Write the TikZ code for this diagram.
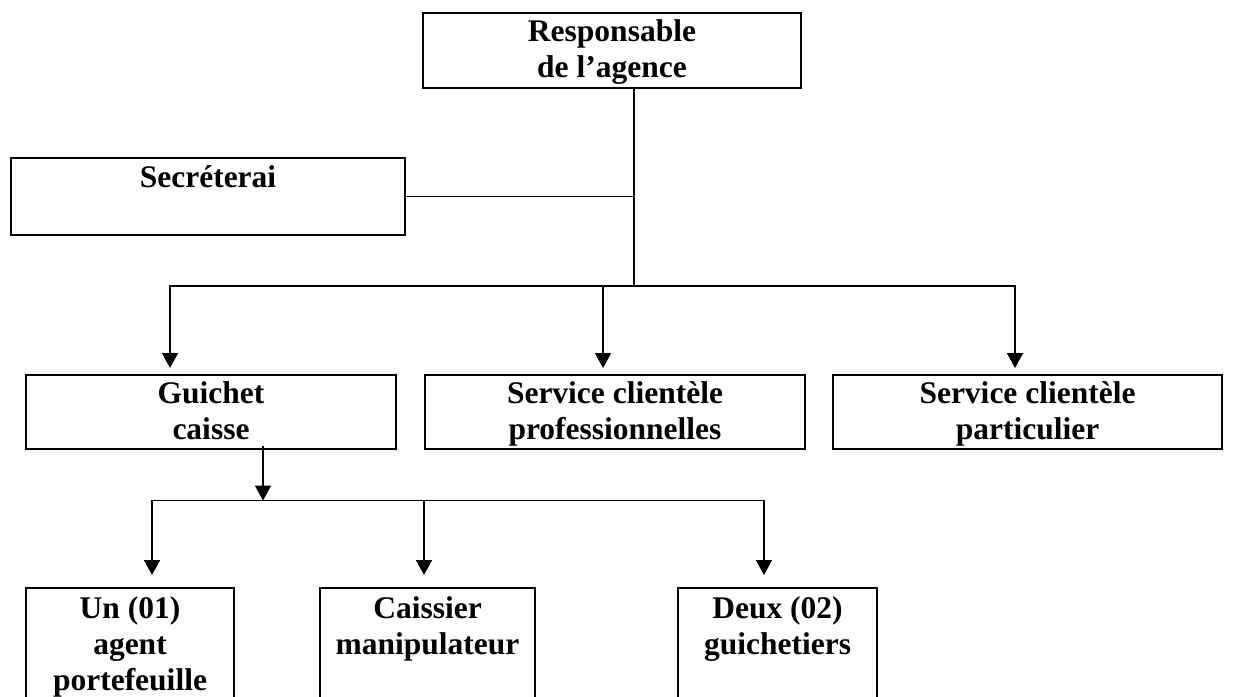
\documentclass[tikz,border=0pt]{standalone}
\usepackage{fontspec}
\setmainfont{Liberation Serif}
\usetikzlibrary{arrows.meta,calc}
\begin{document}
\begin{tikzpicture}[x=0.5pt,y=-0.5pt,
  box/.style={draw, line width=1pt, rectangle, inner sep=0pt},
  lbl/.style={inner sep=0pt, anchor=north, align=center, font=\fontsize{15.75}{18}\selectfont\bfseries},
  conn/.style={line width=0.9pt},
  arr/.style={conn, -{Triangle[width=8pt,length=7.5pt]}}]
\useasboundingbox (0,0) rectangle (1236,696);
\clip (0,0) rectangle (1236,696);

% boxes
\node[box, minimum width=189pt,   minimum height=37.5pt] (resp) at (612,50.5) {};
\node[box, minimum width=197pt,   minimum height=38.5pt] (secr) at (208,196.5) {};
\node[box, minimum width=185pt,   minimum height=37pt]   (gui)  at (211,412) {};
\node[box, minimum width=190pt,   minimum height=37pt]   (prof) at (615,412) {};
\node[box, minimum width=194.5pt, minimum height=37pt]   (part) at (1027.5,412) {};
\node[box, minimum width=104pt,   minimum height=66pt]   (un)   at (130,654) {};
\node[box, minimum width=107.5pt, minimum height=66pt]   (cais) at (427.5,654) {};
\node[box, minimum width=99.5pt,  minimum height=66pt]   (deux) at (777.5,654) {};

% texts
\node[lbl] (resp-t) at ([yshift=-2.5pt]resp.north) {\rule{0pt}{12pt}Responsable\\de l’agence};
\node[lbl] (secr-t) at ([yshift=-3pt]secr.north) {\rule{0pt}{12pt}Secréterai};
\node[lbl] (gui-t)  at ([yshift=-2.5pt]gui.north)  {\rule{0pt}{12pt}Guichet\\caisse};
\node[lbl] (prof-t) at ([yshift=-2.5pt]prof.north) {\rule{0pt}{12pt}Service clientèle\\professionnelles};
\node[lbl] (part-t) at ([yshift=-2.5pt]part.north) {\rule{0pt}{12pt}Service clientèle\\particulier};
\node[lbl] (un-t)   at ([yshift=-3.5pt]un.north)   {\rule{0pt}{12pt}Un (01)\\agent\\portefeuille};
\node[lbl] (cais-t) at ([yshift=-3.5pt]cais.north) {\rule{0pt}{12pt}Caissier\\manipulateur};
\node[lbl] (deux-t) at ([yshift=-3.5pt]deux.north) {\rule{0pt}{12pt}Deux (02)\\guichetiers};

% junction coordinates
\coordinate (j1) at (634,286);
\coordinate (hl) at (170,286);
\coordinate (hp) at (603,286);
\coordinate (hr) at (1015,286);
\coordinate (j2) at (263,500.5);
\coordinate (ll) at (152,500.5);
\coordinate (lm) at (424,500.5);
\coordinate (lr) at (764,500.5);

% upper connectors
\draw[conn] (resp.south -| j1) -- (j1);
\draw[conn] (secr.east) -- (secr.east -| j1);
\draw[arr, shorten >=3pt] (j1) -- (hl) -- (hl |- gui.north);
\draw[arr, shorten >=3pt] (j1) -- (hr) -- (hr |- part.north);
\draw[arr, shorten >=3pt] (hp) -- (hp |- prof.north);

% lower connectors
\draw[arr, shorten <=-2pt] (gui.south -| j2) -- (j2);
\draw[arr, shorten >=6pt] (j2) -- (ll) -- (ll |- un.north);
\draw[arr, shorten >=6pt] (j2) -- (lr) -- (lr |- deux.north);
\draw[arr, shorten >=6pt] (lm) -- (lm |- cais.north);
\end{tikzpicture}
\end{document}
